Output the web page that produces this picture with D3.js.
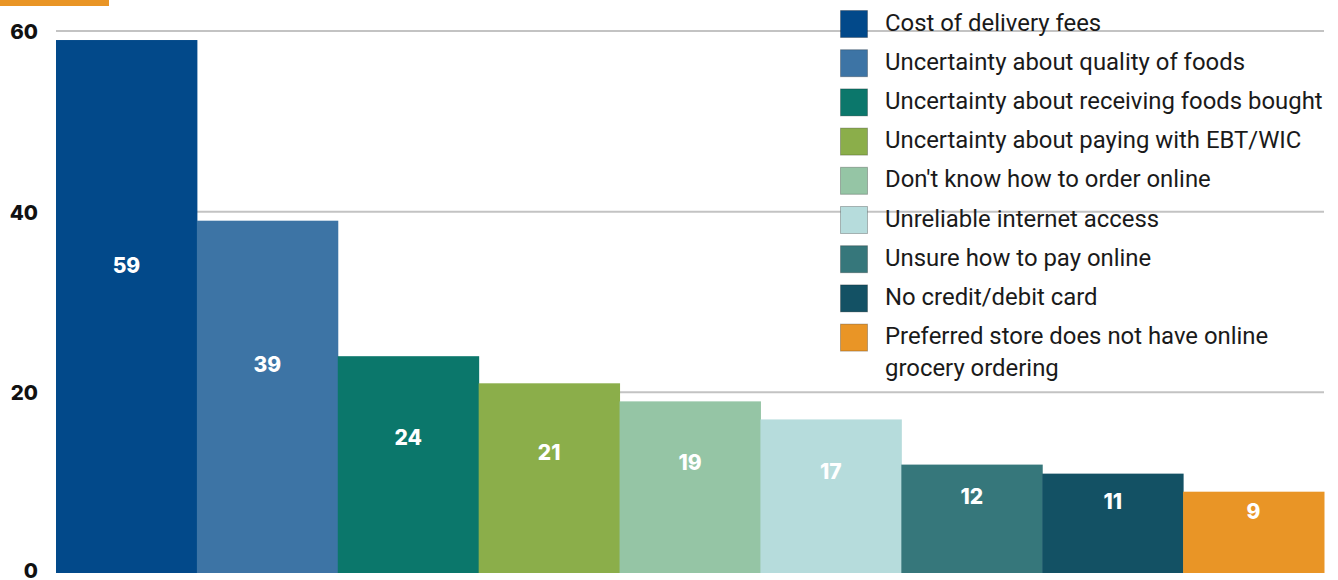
<!DOCTYPE html>
<html>
<head>
<meta charset="utf-8">
<script src="https://cdn.jsdelivr.net/npm/d3@7"></script>
<style>
  html, body { margin: 0; padding: 0; background: #ffffff; }
  svg { display: block; }
</style>
</head>
<body>
<svg id="chart" width="1338" height="580"></svg>
<script>
// Barriers to online grocery ordering (% of respondents)
const categories = [
  "Cost of delivery fees",
  "Uncertainty about quality of foods",
  "Uncertainty about receiving foods bought",
  "Uncertainty about paying with EBT/WIC",
  "Don't know how to order online",
  "Unreliable internet access",
  "Unsure how to pay online",
  "No credit/debit card",
  "Preferred store does not have online grocery ordering"
];
const values = [59, 39, 24, 21, 19, 17, 12, 11, 9];
const yTicks = [0, 20, 40, 60];
const palette = [
  "#02498a", "#3d74a5", "#0b776b", "#8bae4a", "#95c5a5",
  "#b6dcdc", "#36777b", "#135164", "#e99526"
];

const svg = d3.select("#chart");
const width = 1338, height = 580;
const margin = { left: 56, right: 14, top: 31, bottom: 7 };

const x = d3.scaleBand()
  .domain(categories)
  .range([margin.left, width - margin.right])
  .padding(0);

const y = d3.scaleLinear()
  .domain([0, 60])
  .range([height - margin.bottom, margin.top]);

const color = d3.scaleOrdinal().domain(categories).range(palette);

// accent strip in the top-left corner
svg.append("rect")
  .attr("x", 0).attr("y", 0)
  .attr("width", 109).attr("height", 6)
  .attr("fill", "#e99526");

// horizontal gridlines
svg.append("g")
  .selectAll("line")
  .data(yTicks.filter(d => d > 0))
  .join("line")
  .attr("x1", margin.left)
  .attr("x2", width - margin.right)
  .attr("y1", d => y(d))
  .attr("y2", d => y(d))
  .attr("stroke", "#c3c3c3")
  .attr("stroke-width", 2);

// y axis labels
const yAxis = d3.axisLeft(y).tickValues(yTicks).tickSize(0).tickPadding(0);
const gy = svg.append("g")
  .attr("transform", `translate(38,0)`)
  .call(yAxis);
gy.select(".domain").remove();
gy.selectAll("text")
  .attr("font-family", "Inter, 'Open Sans', sans-serif")
  .attr("font-weight", 800)
  .attr("font-size", 20.5)
  .attr("fill", "#111111")
  .attr("dy", d => d === 0 ? "0.22em" : "0.36em");

const data = categories.map((c, i) => ({ category: c, value: values[i] }));

// bars
svg.append("g")
  .selectAll("rect")
  .data(data)
  .join("rect")
  .attr("x", d => x(d.category))
  .attr("width", x.bandwidth() + 0.5)
  .attr("y", d => y(d.value))
  .attr("height", d => y(0) - y(d.value))
  .attr("fill", d => color(d.category));

// value labels inside the bars
svg.append("g")
  .selectAll("text")
  .data(data)
  .join("text")
  .attr("x", d => x(d.category) + x.bandwidth() / 2)
  .attr("y", d => y(d.value * 0.543 + 1.96))
  .attr("dy", "0.36em")
  .attr("text-anchor", "middle")
  .attr("font-family", "Inter, 'Open Sans', sans-serif")
  .attr("font-weight", 800)
  .attr("font-size", 21)
  .attr("fill", "#ffffff")
  .text(d => d.value);

// legend
const legend = svg.append("g").attr("transform", "translate(840,10)");
const rowStep = 39.2;
const maxTextWidth = 446;

const rows = legend.selectAll("g")
  .data(categories)
  .join("g")
  .attr("transform", (d, i) => `translate(0,${i * rowStep})`);

rows.append("rect")
  .attr("x", 0.5).attr("y", 0.5)
  .attr("width", 27).attr("height", 27)
  .attr("fill", d => color(d))
  .attr("stroke", "rgba(0,0,0,0.25)")
  .attr("stroke-width", 1);

rows.append("text")
  .attr("x", 45)
  .attr("y", 12)
  .attr("dy", "0.36em")
  .attr("font-family", "Roboto, 'Noto Sans', sans-serif")
  .attr("font-size", 23.9)
  .attr("fill", "#1a1a1a")
  .each(function(d) {
    const t = d3.select(this);
    const words = d.split(" ");
    let line = [];
    let tspan = t.append("tspan").attr("x", 45);
    words.forEach(w => {
      line.push(w);
      tspan.text(line.join(" "));
      if (tspan.node().getComputedTextLength() > maxTextWidth && line.length > 1) {
        line.pop();
        tspan.text(line.join(" "));
        line = [w];
        tspan = t.append("tspan").attr("x", 45).attr("dy", 32).text(w);
      }
    });
  });
</script>
</body>
</html>
